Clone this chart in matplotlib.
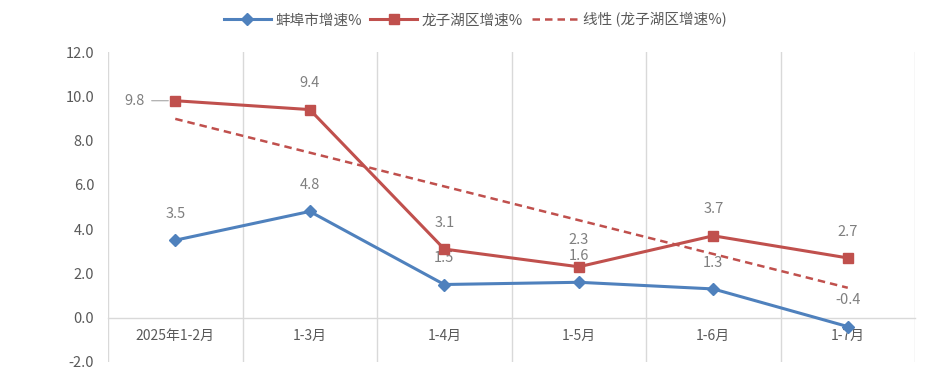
import numpy as np
import matplotlib.pyplot as plt
from matplotlib.ticker import FixedLocator

plt.rcParams['font.family'] = ['Noto Sans CJK SC', 'DejaVu Sans']

months = ["2025年1-2月", "1-3月", "1-4月", "1-5月", "1-6月", "1-7月"]
bengbu = [3.5, 4.8, 1.5, 1.6, 1.3, -0.4]
longzihu = [9.8, 9.4, 3.1, 2.3, 3.7, 2.7]

blue = "#4F81BD"
red = "#C0504D"
grid_c = "#D9D9D9"
lab_c = "#7F7F7F"

x = np.arange(1, len(months) + 1)
# Excel-style linear trendline of the 龙子湖 series
k, b = np.polyfit(x, longzihu, 1)
trend = k * x + b

fig = plt.figure(figsize=(9.28, 3.87), dpi=100)
ax = fig.add_axes([0.1164, 0.0646, 0.8696, 0.801])

ax.plot(x, bengbu, color=blue, lw=2.2, marker="D", ms=6.5, label="蚌埠市增速%", zorder=4)
ax.plot(x, longzihu, color=red, lw=2.2, marker="s", ms=7, label="龙子湖区增速%", zorder=4)
ax.plot(x, trend, color=red, lw=1.8, ls=(0, (3, 2)), label="线性 (龙子湖区增速%)", zorder=3)

for xi, v in zip(x, bengbu):
    ax.annotate(f"{v:.1f}", (xi, v), xytext=(0, 19), textcoords="offset points",
                ha="center", va="center", color=lab_c, fontsize=10.5)
for i, (xi, v) in enumerate(zip(x, longzihu)):
    if i == 0:
        ax.annotate(f"{v:.1f}", (xi, v), xytext=(-22, 0), textcoords="offset points",
                    ha="right", va="center", color=lab_c, fontsize=10.5,
                    arrowprops=dict(arrowstyle="-", color="#A6A6A6", lw=0.8,
                                    shrinkA=3, shrinkB=5))
    else:
        ax.annotate(f"{v:.1f}", (xi, v), xytext=(0, 19), textcoords="offset points",
                    ha="center", va="center", color=lab_c, fontsize=10.5)

ax.set_xlim(0.5, len(months) + 0.5)
ax.set_ylim(-2, 12)
ax.set_yticks(np.arange(-2, 13, 2))
ax.set_yticklabels([f"{t:.1f}" for t in np.arange(-2, 13, 2)])
ax.set_xticks(x)
ax.set_xticklabels(months)
ax.xaxis.set_minor_locator(FixedLocator(np.arange(0.5, len(months) + 1, 1)))
ax.grid(which="minor", axis="x", color=grid_c, lw=1)
ax.tick_params(axis="both", which="both", length=0)
ax.tick_params(axis="y", labelsize=10.5, labelcolor="#595959", pad=10)
ax.tick_params(axis="x", labelsize=10, labelcolor="#595959", pad=8)

for s in ["top", "right", "left"]:
    ax.spines[s].set_visible(False)
ax.spines["bottom"].set_position(("data", 0))
ax.spines["bottom"].set_color(grid_c)
ax.spines["bottom"].set_linewidth(1)

ax.legend(loc="center", bbox_to_anchor=(0.455, 1.103), ncol=3, frameon=False,
          fontsize=10.5, handlelength=3.2, columnspacing=0.6, handletextpad=0.3,
          labelcolor="#595959")

fig.savefig("out.png", dpi=100)
